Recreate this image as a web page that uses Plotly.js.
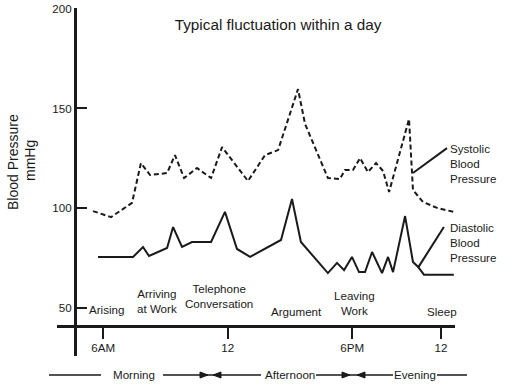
<!DOCTYPE html>
<html>
<head>
<meta charset="utf-8">
<script src="https://cdn.plot.ly/plotly-3.0.1.min.js"></script>
<style>html,body{margin:0;padding:0;background:#fff;}#chart{width:509px;height:385px;}</style>
</head>
<body>
<div id="chart"></div>
<script>
// Time of day (hours, as placed on the drawing's time axis)
const systolicHours = [5.51, 6.38, 7.39, 7.82, 8.26, 9.08, 9.46, 9.90, 10.52, 11.20, 11.73, 12.98, 13.80, 14.43, 15.39, 15.73, 16.83, 17.41, 17.65, 18.04, 18.38, 18.76, 19.15, 19.49, 19.78, 20.74, 20.93, 21.41, 22.09, 22.90];
const systolic = [98.5, 95.5, 102.6, 122.6, 116.6, 117.6, 126.6, 115.1, 120.1, 115.1, 130.6, 113.6, 126.6, 129.1, 159.7, 142.2, 115.1, 114.6, 119.1, 119.1, 125.1, 118.1, 122.6, 118.6, 108.1, 144.7, 109.1, 103.1, 100.1, 98.1];

const diastolicHours = [5.75, 7.44, 7.92, 8.21, 9.08, 9.37, 9.80, 10.28, 11.20, 11.87, 12.45, 13.08, 14.57, 15.10, 15.53, 16.83, 17.27, 17.61, 17.99, 18.33, 18.62, 18.96, 19.44, 19.73, 19.97, 20.55, 20.93, 21.17, 21.46, 22.90];
const diastolic = [75.5, 75.5, 80.5, 76.0, 80.0, 90.5, 80.5, 83.0, 83.0, 98.1, 79.5, 75.5, 84.0, 104.6, 83.0, 67.4, 72.5, 68.9, 75.5, 67.9, 67.9, 78.0, 67.4, 75.5, 67.9, 96.0, 73.0, 70.6, 66.6, 66.6];

const xTickVals = [6, 12, 18, 22.28];
const xTickText = ['6AM', '12', '6PM', '12'];
const yTickVals = [50, 100, 150, 200];

const eventLabels = ['Arising', 'Arriving<br>at Work', 'Telephone<br>Conversation', 'Argument', 'Leaving<br>Work', 'Sleep'];
const periodLabels = ['Morning', 'Afternoon', 'Evening'];
const seriesLabels = ['Systolic<br>Blood<br>Pressure', 'Diastolic<br>Blood<br>Pressure'];

const FONT = '"Liberation Sans", Arial, sans-serif';
const FS = 11.6;
const INK = '#1a1a1a';

const traces = [
  {x: systolicHours, y: systolic, type: 'scatter', mode: 'lines', name: 'Systolic',
   line: {color: INK, width: 2, dash: '5px,3px'}, cliponaxis: false},
  {x: diastolicHours, y: diastolic, type: 'scatter', mode: 'lines', name: 'Diastolic',
   line: {color: INK, width: 2}, cliponaxis: false}
];

// pixel helpers for paper coordinates (plot area x: 57..455, y: 8..356)
const px = v => (v - 57) / 398;
const py = v => (356 - v) / 348;

const eventPos = [[6.18, 48.9], [8.60, 53.6], [11.58, 56.0], [15.34, 47.9], [18.09, 52.6], [22.33, 47.9]];
const annotations = eventLabels.map((t, i) => ({
  text: t, x: eventPos[i][0], y: eventPos[i][1], xref: 'x', yref: 'y',
  showarrow: false, xanchor: 'center', yanchor: 'middle',
  font: {family: FONT, size: FS, color: INK}
}));

annotations.push(
  {text: seriesLabels[0], xref: 'paper', yref: 'paper', x: px(448), y: py(163), xanchor: 'left', yanchor: 'middle', align: 'left', showarrow: false, font: {family: FONT, size: FS, color: INK}},
  {text: seriesLabels[1], xref: 'paper', yref: 'paper', x: px(448), y: py(242), xanchor: 'left', yanchor: 'middle', align: 'left', showarrow: false, font: {family: FONT, size: FS, color: INK}},
  {text: 'Blood Pressure', xref: 'paper', yref: 'paper', x: px(13), y: py(162), textangle: -90, xanchor: 'center', yanchor: 'middle', showarrow: false, font: {family: FONT, size: 14, color: INK}},
  {text: 'mmHg', xref: 'paper', yref: 'paper', x: px(30), y: py(161), textangle: -90, xanchor: 'center', yanchor: 'middle', showarrow: false, font: {family: FONT, size: 14, color: INK}},
  {text: periodLabels[0], xref: 'paper', yref: 'paper', x: px(134), y: py(375), xanchor: 'center', yanchor: 'middle', showarrow: false, font: {family: FONT, size: FS, color: INK}},
  {text: periodLabels[1], xref: 'paper', yref: 'paper', x: px(290), y: py(375), xanchor: 'center', yanchor: 'middle', showarrow: false, font: {family: FONT, size: FS, color: INK}},
  {text: periodLabels[2], xref: 'paper', yref: 'paper', x: px(415), y: py(375), xanchor: 'center', yanchor: 'middle', showarrow: false, font: {family: FONT, size: FS, color: INK}}
);

const bandY = py(375);
const hline = (a, b) => ({type: 'line', xref: 'paper', yref: 'paper', x0: px(a), x1: px(b), y0: bandY, y1: bandY, line: {color: INK, width: 1.5}});
const tri = (tip, dir) => {
  const base = tip - dir * 8;
  return {type: 'path', xref: 'paper', yref: 'paper', fillcolor: INK, line: {color: INK, width: 1},
    path: `M ${px(tip)} ${bandY} L ${px(base)} ${py(372)} L ${px(base)} ${py(378)} Z`};
};
const shapes = [
  hline(49, 101), hline(163, 261), hline(316, 393), hline(437, 467),
  tri(208, 1), tri(213, -1), tri(350, 1), tri(357, -1),
  // pointer lines from labels to series
  {type: 'line', xref: 'x', yref: 'y', x0: 20.93, y0: 117.6, x1: 22.57, y1: 130.1, line: {color: INK, width: 2}},
  {type: 'line', xref: 'x', yref: 'y', x0: 21.17, y0: 70.0, x1: 22.42, y1: 90.5, line: {color: INK, width: 2}}
];

const layout = {
  width: 509, height: 385,
  margin: {l: 57, r: 54, t: 8, b: 29, pad: 0},
  paper_bgcolor: '#ffffff', plot_bgcolor: '#ffffff',
  showlegend: false,
  title: {text: 'Typical fluctuation within a day', x: px(278), xref: 'paper', xanchor: 'center', y: 1 - 25 / 385, yanchor: 'middle',
          font: {family: FONT, size: 15.3, color: INK}},
  xaxis: {range: [3.775, 22.956], anchor: 'free', position: py(326), showgrid: false, zeroline: false,
          showline: true, linecolor: INK, linewidth: 2.5,
          ticks: 'outside', ticklen: 11, tickwidth: 2, tickcolor: INK,
          tickvals: xTickVals, ticktext: xTickText,
          tickfont: {family: FONT, size: FS, color: INK}},
  yaxis: {range: [25.8, 200.4], anchor: 'free', position: px(75), showgrid: false, zeroline: false,
          showline: true, linecolor: INK, linewidth: 2.5,
          ticks: 'inside', ticklen: 10, tickwidth: 2, tickcolor: INK,
          tickvals: yTickVals, ticktext: yTickVals.map(String),
          tickfont: {family: FONT, size: FS, color: INK}},
  annotations: annotations,
  shapes: shapes
};

Plotly.newPlot('chart', traces, layout, {staticPlot: true, displayModeBar: false});
</script>
</body>
</html>
